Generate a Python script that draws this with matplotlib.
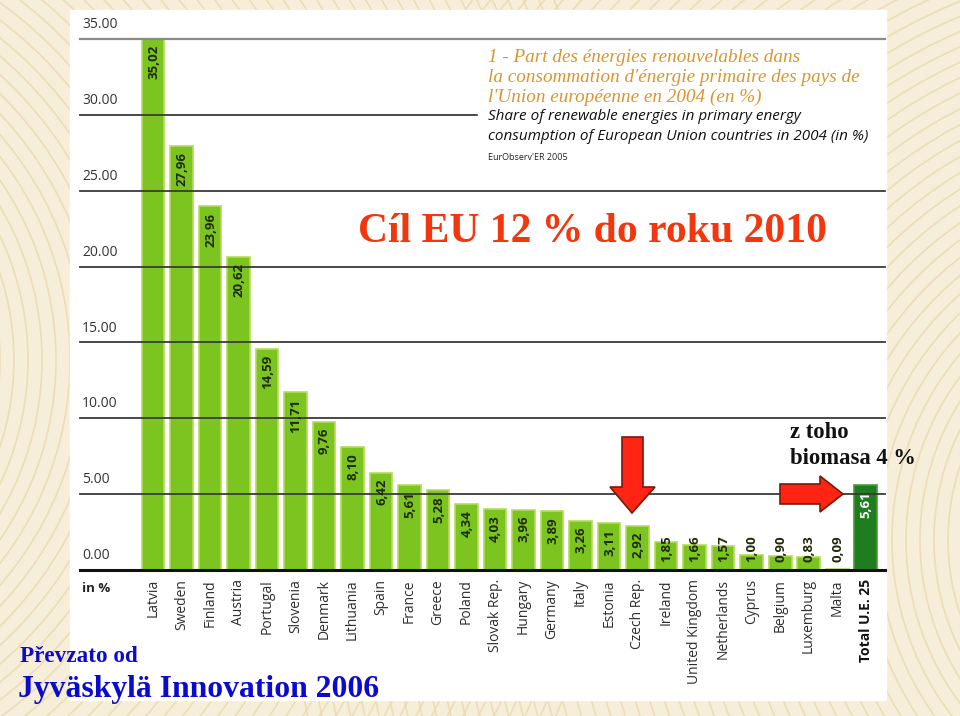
import numpy as np
import matplotlib
matplotlib.use('Agg')
import matplotlib.pyplot as plt
from matplotlib.patches import Rectangle, Polygon, Circle

countries = ["Latvia", "Sweden", "Finland", "Austria", "Portugal", "Slovenia",
             "Denmark", "Lithuania", "Spain", "France", "Greece", "Poland",
             "Slovak Rep.", "Hungary", "Germany", "Italy", "Estonia", "Czech Rep.",
             "Ireland", "United Kingdom", "Netherlands", "Cyprus", "Belgium",
             "Luxemburg", "Malta", "Total U.E. 25"]
values = [35.02, 27.96, 23.96, 20.62, 14.59, 11.71, 9.76, 8.10, 6.42, 5.61,
          5.28, 4.34, 4.03, 3.96, 3.89, 3.26, 3.11, 2.92, 1.85, 1.66, 1.57,
          1.00, 0.90, 0.83, 0.09, 5.61]
yticks = [0, 5, 10, 15, 20, 25, 30, 35]

W, H = 960, 716
fig = plt.figure(figsize=(W / 100, H / 100), dpi=100)

# background (beige slide + white picture)
bg = fig.add_axes([0, 0, 1, 1], zorder=0)
bg.set_xlim(0, W)
bg.set_ylim(H, 0)
bg.axis('off')
bg.add_patch(Rectangle((0, 0), W, H, color='#f6eed8'))
for r in range(120, 900, 14):
    bg.add_patch(Circle((-260, 360), r, fill=False, ec='#ead9b0', lw=1.2, alpha=0.8))
    bg.add_patch(Circle((1180, 540), r, fill=False, ec='#ead9b0', lw=1.2, alpha=0.8))
bg.add_patch(Rectangle((70, 10), 816, 690, color='white'))

# chart
ax = fig.add_axes([80 / W, (H - 570) / H, 805 / W, 531 / H], zorder=1)
ax.set_facecolor('none')
ax.set_xlim(-2.56, 25.68)
ax.set_ylim(0, 35)
ax.axis('off')

x = np.arange(len(values))
colors = ['#7cc41f'] * (len(values) - 1) + ['#1f7d1f']
edges = ['#b5dc5a'] * (len(values) - 1) + ['#4c9a3a']
ax.bar(x, values, width=0.8, color=colors, edgecolor=edges, lw=1.2, zorder=2)

for t in yticks:
    if t == 0:
        ax.axhline(t, color='#111111', lw=2.2, zorder=4, clip_on=False)
    elif t == 35:
        ax.axhline(t, color='#8a8a8a', lw=1.6, zorder=4, clip_on=False)
    else:
        ax.axhline(t, color='#3a3a3a', lw=1.3, zorder=4, clip_on=False)
    ax.text(-2.49, t + 0.45, f"{t:.2f}", ha='left', va='bottom',
            fontsize=10, family='Open Sans', color='#333333')

ax.text(-2.49, -1.2, "in %", ha='left', va='center', fontsize=9.5,
        family='Open Sans', fontweight='bold', color='#222222')

for i, (c, v) in enumerate(zip(countries, values)):
    last = i == len(values) - 1
    ax.text(i, -0.6, c, rotation=90, ha='center', va='top', fontsize=10,
            family='Open Sans', fontweight='bold' if last else 'normal',
            color='#111111' if last else '#2e2e2e', clip_on=False)
    lab = f"{v:.2f}".replace('.', ',')
    ax.text(i + 0.02, max(v - 0.4, 2.3), lab, rotation=90, ha='center', va='top',
            fontsize=9.5, family='Open Sans', fontweight='bold',
            color='white' if last else '#1f2a05', zorder=5)

# overlay texts and arrows in pixel coordinates
ov = fig.add_axes([0, 0, 1, 1], zorder=5)
ov.set_facecolor('none')
ov.set_xlim(0, W)
ov.set_ylim(H, 0)
ov.axis('off')

# white block behind the source caption (hides the 30 gridline there)
ov.add_patch(Rectangle((478, 46), 407, 122, color='white'))

fr = ["1 - Part des énergies renouvelables dans",
      "la consommation d'énergie primaire des pays de",
      "l'Union européenne en 2004 (en %)"]
for k, line in enumerate(fr):
    ov.text(488, 58 + k * 19.5, line, ha='left', va='center', fontsize=13.8,
            family='Liberation Serif', style='italic', color='#d9952e')
en = ["Share of renewable energies in primary energy",
      "consumption of European Union countries in 2004 (in %)"]
for k, line in enumerate(en):
    ov.text(488, 117 + k * 20, line, ha='left', va='center', fontsize=11,
            family='Open Sans', style='italic', color='#111111')
ov.text(488, 157, "EurObserv'ER 2005", ha='left', va='center', fontsize=6.5,
        family='Open Sans', color='#222222')

ov.text(358, 232, "Cíl EU 12 % do roku 2010", ha='left', va='center',
        fontsize=30, family='Liberation Serif', fontweight='bold', color='#f2360e')

ov.text(790, 432, "z toho", ha='left', va='center', fontsize=16.3,
        family='Liberation Serif', fontweight='bold', color='#111111')
ov.text(790, 459, "biomasa 4 %", ha='left', va='center', fontsize=16.3,
        family='Liberation Serif', fontweight='bold', color='#111111')

ov.text(20, 656, "Převzato od", ha='left', va='center', fontsize=16.7,
        family='Liberation Serif', fontweight='bold', color='#0b0bd0')
ov.text(18, 689, "Jyväskylä Innovation 2006", ha='left', va='center', fontsize=22.8,
        family='Liberation Serif', fontweight='bold', color='#0b0bd0')

down = [(622, 437), (643, 437), (643, 487), (655, 487), (632, 513),
        (610, 487), (622, 487)]
right = [(780, 484), (820, 484), (820, 476), (843, 494), (820, 512),
         (820, 504), (780, 504)]
for pts in (down, right):
    ov.add_patch(Polygon(pts, closed=True, fc='#ff2414', ec='#7a1a08', lw=1.2))

fig.savefig('out.png', dpi=100)
